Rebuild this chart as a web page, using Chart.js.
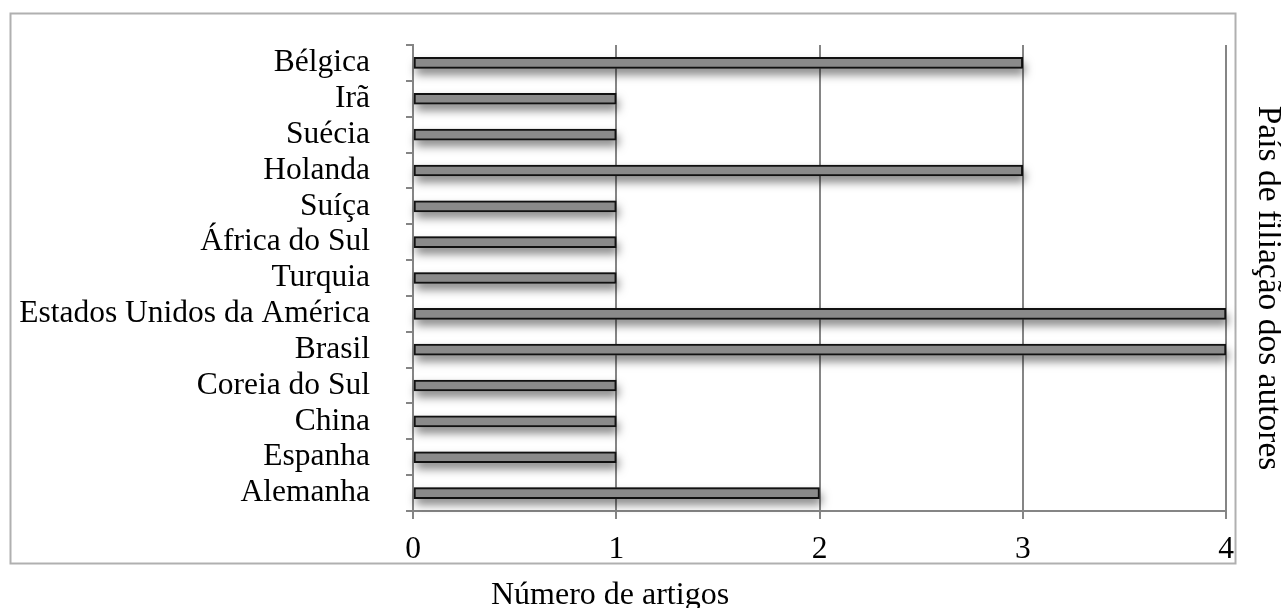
<!DOCTYPE html>
<html>
<head>
<meta charset="utf-8">
<script src="https://cdn.jsdelivr.net/npm/chart.js@4"></script>
<style>
  body { margin: 0; background: #fff; }
  canvas { display: block; }
</style>
</head>
<body>
<canvas id="chart" width="1281" height="608"></canvas>
<script>
// ================= DATA =================
const countries = [
    "Bélgica", "Irã", "Suécia", "Holanda", "Suíça", "África do Sul", "Turquia",
    "Estados Unidos da América", "Brasil", "Coreia do Sul", "China", "Espanha", "Alemanha"
];
const articles = [3, 1, 1, 3, 1, 1, 1, 4, 4, 1, 1, 1, 2];
const xTicks = [0, 1, 2, 3, 4];

const xTitle = "Número de artigos";
const yTitle = "País de filiação dos autores";

const FONT = "'Liberation Serif', 'Times New Roman', serif";
const GRID = "#858585";
const BAR_FILL = "#8a8a8a";

// ================= PLUGINS =================
// outer frame + the two axis titles
const framePlugin = {
    id: "frame",
    beforeDraw(chart) {
        const ctx = chart.ctx;
        ctx.save();
        ctx.strokeStyle = "#b0b0b0";
        ctx.lineWidth = 2;
        ctx.strokeRect(10.5, 13.5, 1225, 550);
        ctx.restore();
    },
    afterDraw(chart) {
        const ctx = chart.ctx;
        ctx.save();
        ctx.fillStyle = "#000";
        ctx.font = "32px " + FONT;
        ctx.textAlign = "center";
        ctx.textBaseline = "alphabetic";
        ctx.fillText(xTitle, 610, 604);

        ctx.font = "33.5px " + FONT;
        ctx.translate(1259, 288);
        ctx.rotate(Math.PI / 2);
        ctx.fillText(yTitle, 0, 0);
        ctx.restore();
    }
};

// soft drop shadow under the bars (bar element clips itself, so paint it first)
const shadowPlugin = {
    id: "barShadow",
    beforeDatasetsDraw(chart) {
        const ctx = chart.ctx;
        const meta = chart.getDatasetMeta(0);
        ctx.save();
        ctx.shadowColor = "rgba(0,0,0,0.5)";
        ctx.shadowBlur = 10;
        ctx.shadowOffsetX = 2;
        ctx.shadowOffsetY = 6;
        ctx.fillStyle = BAR_FILL;
        meta.data.forEach(bar => {
            const p = bar.getProps(["x", "y", "base", "height"], true);
            const left = Math.min(p.x, p.base);
            ctx.fillRect(left, p.y - p.height / 2, Math.abs(p.x - p.base), p.height);
        });
        ctx.restore();
    }
};

// ================= CHART =================
new Chart(document.getElementById("chart"), {
    type: "bar",
    data: {
        labels: countries,
        datasets: [{
            data: articles,
            backgroundColor: BAR_FILL,
            borderColor: "#111",
            borderWidth: 2,
            borderSkipped: false,
            barThickness: 11
        }]
    },
    options: {
        indexAxis: "y",
        responsive: false,
        animation: false,
        layout: { padding: { top: 45, right: 55, bottom: 0, left: 0 } },
        plugins: {
            legend: { display: false },
            tooltip: { enabled: false }
        },
        scales: {
            x: {
                min: 0,
                max: 4,
                afterBuildTicks(scale) {
                    scale.ticks = xTicks.map(v => ({ value: v }));
                },
                afterFit(scale) { scale.height = 97; },
                ticks: {
                    color: "#000",
                    font: { family: FONT, size: 31.5 },
                    padding: 12
                },
                grid: { color: GRID, lineWidth: 2, tickLength: 8 },
                border: { color: GRID, width: 2 }
            },
            y: {
                afterFit(scale) {
                    scale.width = 413;
                    scale.paddingTop = 0;
                    scale.paddingBottom = 0;
                },
                ticks: {
                    color: "#000",
                    font: { family: FONT, size: 31.5 },
                    padding: 36,
                    autoSkip: false
                },
                grid: {
                    color: GRID,
                    lineWidth: 2,
                    drawOnChartArea: false,
                    tickLength: 7
                },
                border: { color: GRID, width: 2 }
            }
        }
    },
    plugins: [framePlugin, shadowPlugin]
});
</script>
</body>
</html>
